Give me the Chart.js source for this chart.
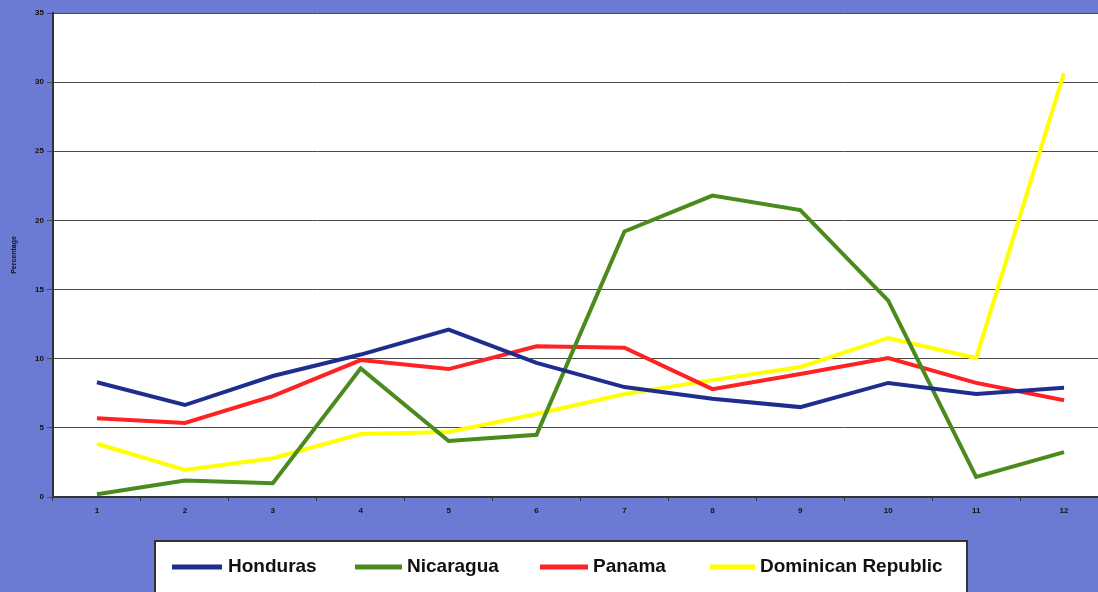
<!DOCTYPE html>
<html><head><meta charset="utf-8">
<script src="https://cdn.jsdelivr.net/npm/chart.js@4.4.1/dist/chart.umd.min.js"></script>
<style>html,body{margin:0;padding:0;overflow:hidden;background:#6b7ad3;width:1098px;height:592px}#wrap{width:1108px;height:592px}</style>
</head><body><div id="wrap"><canvas id="c" width="1108" height="592"></canvas></div>
<script>
const categories = ['1','2','3','4','5','6','7','8','9','10','11','12'];
const honduras = [8.3, 6.65, 8.75, 10.3, 12.1, 9.7, 7.95, 7.1, 6.5, 8.25, 7.45, 7.9];
const nicaragua = [0.2, 1.2, 1.0, 9.3, 4.05, 4.5, 19.2, 21.8, 20.75, 14.2, 1.45, 3.25];
const panama = [5.7, 5.35, 7.3, 9.9, 9.25, 10.9, 10.8, 7.8, 8.9, 10.05, 8.25, 7.0];
const dominican = [3.85, 1.95, 2.8, 4.55, 4.7, 6.0, 7.45, 8.45, 9.4, 11.5, 10.05, 30.65];
const seriesNames = ['Honduras','Nicaragua','Panama','Dominican Republic'];
const seriesColors = ['#1f2e8e','#4b8a1c','#ff2222','#ffff00'];

const bgPlugin = {
  id:'bg',
  beforeDraw(chart){
    const {ctx, chartArea:a} = chart;
    ctx.save();
    ctx.fillStyle = '#6b7ad3';
    ctx.fillRect(0,0,chart.width,chart.height);
    ctx.fillStyle = '#ffffff';
    ctx.fillRect(a.left,a.top,a.right-a.left,a.bottom-a.top);
    ctx.restore();
  },
  afterDraw(chart){
    const ctx = chart.ctx;
    ctx.save();
    ctx.fillStyle = '#ffffff';
    ctx.fillRect(155,541,812,60);
    ctx.strokeStyle = '#333333';
    ctx.lineWidth = 2;
    ctx.strokeRect(155,541,812,60);
    const xs = [[172,222,228],[355,402,407],[540,588,593],[710,755,760]];
    ctx.font = 'bold 19px "Liberation Sans", Arial, sans-serif';
    ctx.textBaseline = 'middle';
    chart.data.datasets.forEach((d,i)=>{
      const [l1,l2,t] = xs[i];
      ctx.strokeStyle = d.borderColor;
      ctx.lineWidth = 5;
      ctx.beginPath(); ctx.moveTo(l1,567); ctx.lineTo(l2,567); ctx.stroke();
      ctx.fillStyle = '#111111';
      ctx.fillText(d.label, t, 567);
    });
    ctx.restore();
  }
};

new Chart(document.getElementById('c'), {
  type:'line',
  data:{
    labels: categories,
    datasets: [honduras, nicaragua, panama, dominican].map((v,i)=>({
      label: seriesNames[i], data: v, borderColor: seriesColors[i], backgroundColor: seriesColors[i],
      borderWidth: 4, pointRadius: 0, tension: 0, fill:false
    }))
  },
  options:{
    responsive:false, animation:false,
    layout:{padding:{left:0,right:0,top:13,bottom:0}},
    plugins:{legend:{display:false}, tooltip:{enabled:false}},
    scales:{
      x:{
        offset:true,
        grid:{display:true, drawOnChartArea:false, color:'#333', tickLength:4, offset:true},
        border:{display:true, color:'#333', width:2},
        ticks:{color:'#111', font:{size:8, weight:'bold', family:'"Liberation Sans", Arial'}, padding:5, maxRotation:0},
        afterFit(s){ s.height = 95; }
      },
      y:{
        min:0, max:35,
        ticks:{stepSize:5, color:'#111', font:{size:8, weight:'bold', family:'"Liberation Sans", Arial'}, padding:3},
        grid:{color:'#4a4a4a', lineWidth:1, tickLength:6},
        border:{display:true, color:'#333', width:2},
        title:{display:true, text:'Percentage', color:'#111', font:{size:7, weight:'bold', family:'"Liberation Sans", Arial'}, padding:{top:10,bottom:0}},
        afterFit(s){ s.width = 53; }
      }
    }
  },
  plugins:[bgPlugin]
});
</script>
</body></html>
